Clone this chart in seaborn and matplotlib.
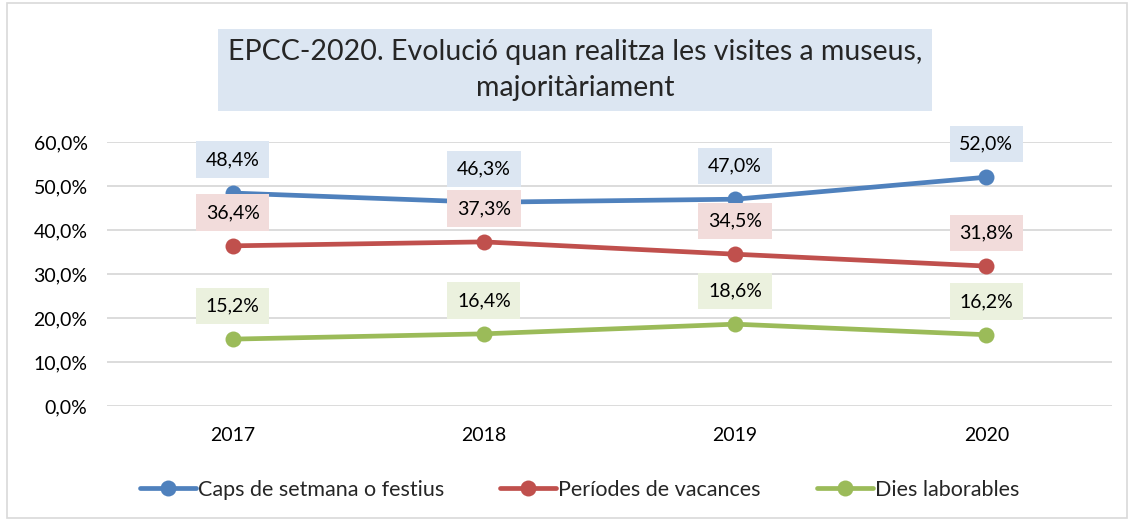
import numpy as np
import pandas as pd
import matplotlib
matplotlib.use("Agg")
import matplotlib.pyplot as plt
import seaborn as sns
from matplotlib.patches import Rectangle

years = [2017, 2018, 2019, 2020]
series_names = ["Caps de setmana o festius", "Períodes de vacances", "Dies laborables"]
caps_setmana = [48.4, 46.3, 47.0, 52.0]
periodes_vacances = [36.4, 37.3, 34.5, 31.8]
dies_laborables = [15.2, 16.4, 18.6, 16.2]

line_colors = ["#4F81BD", "#C0504D", "#9BBB59"]
box_colors = ["#DCE6F2", "#F2DCDB", "#EBF1DE"]

rows = []
for name, vals in zip(series_names, [caps_setmana, periodes_vacances, dies_laborables]):
    for yr, v in zip(years, vals):
        rows.append({"year": yr, "value": v / 100, "serie": name})
df = pd.DataFrame(rows)

sns.set_theme(style="white")
plt.rcParams["font.family"] = ["Lato", "DejaVu Sans"]

fig = plt.figure(figsize=(11.34, 5.21), dpi=100)
ax = fig.add_axes([107 / 1134, 115 / 521, 1005 / 1134, 264 / 521])

sns.lineplot(data=df, x="year", y="value", hue="serie", hue_order=series_names,
             palette=line_colors, marker="o", markersize=11.5, markeredgewidth=0,
             linewidth=3.4, ax=ax, legend=True)

# data labels
for name, col in zip(series_names, box_colors):
    sub = df[df["serie"] == name]
    for yr, v in zip(sub["year"], sub["value"]):
        ax.annotate(f"{v * 100:.1f}%".replace(".", ","), (yr, v),
                    xytext=(0, 24), textcoords="offset points",
                    ha="center", va="center", fontsize=14, color="#000000",
                    bbox=dict(boxstyle="square,pad=0.5", fc=col, ec="none"),
                    zorder=5)

ax.set_xlim(2016.5, 2020.5)
ax.set_ylim(0, 0.6)
ax.set_xticks(years)
ax.set_xticklabels([str(y) for y in years])
ax.set_yticks(np.arange(0, 0.61, 0.1))
ax.set_yticklabels([f"{t * 100:.1f}%".replace(".", ",") for t in np.arange(0, 0.61, 0.1)])
ax.tick_params(axis="both", labelsize=14, colors="#000000", length=0)
ax.tick_params(axis="x", pad=15)
ax.tick_params(axis="y", pad=14)
ax.yaxis.grid(True, color="#D9D9D9", linewidth=1.3)
ax.set_axisbelow(True)
ax.set_xlabel("")
ax.set_ylabel("")
sns.despine(ax=ax, left=True, bottom=True)

# title in a shaded box
fig.text(0.507, 1 - 70 / 521, "EPCC-2020. Evolució quan realitza les visites a museus,\nmajoritàriament",
         ha="center", va="center", fontsize=20.5, linespacing=1.45,
         bbox=dict(boxstyle="square,pad=0.35", fc="#DCE6F2", ec="none"))

handles, labels = ax.get_legend_handles_labels()
ax.legend_.remove()
fig.legend(handles, labels, loc="center", bbox_to_anchor=(0.511, 1 - 490 / 521),
           ncol=3, frameon=False, fontsize=15.5, handlelength=2.6, handletextpad=0.1,
           columnspacing=2.6)

# outer border
fig.patches.append(Rectangle((7 / 1134, 3 / 521), 1 - 14 / 1134, 1 - 6 / 521,
                             transform=fig.transFigure, fill=False,
                             ec="#D9D9D9", lw=1.2))

fig.savefig("out.png", dpi=100)
